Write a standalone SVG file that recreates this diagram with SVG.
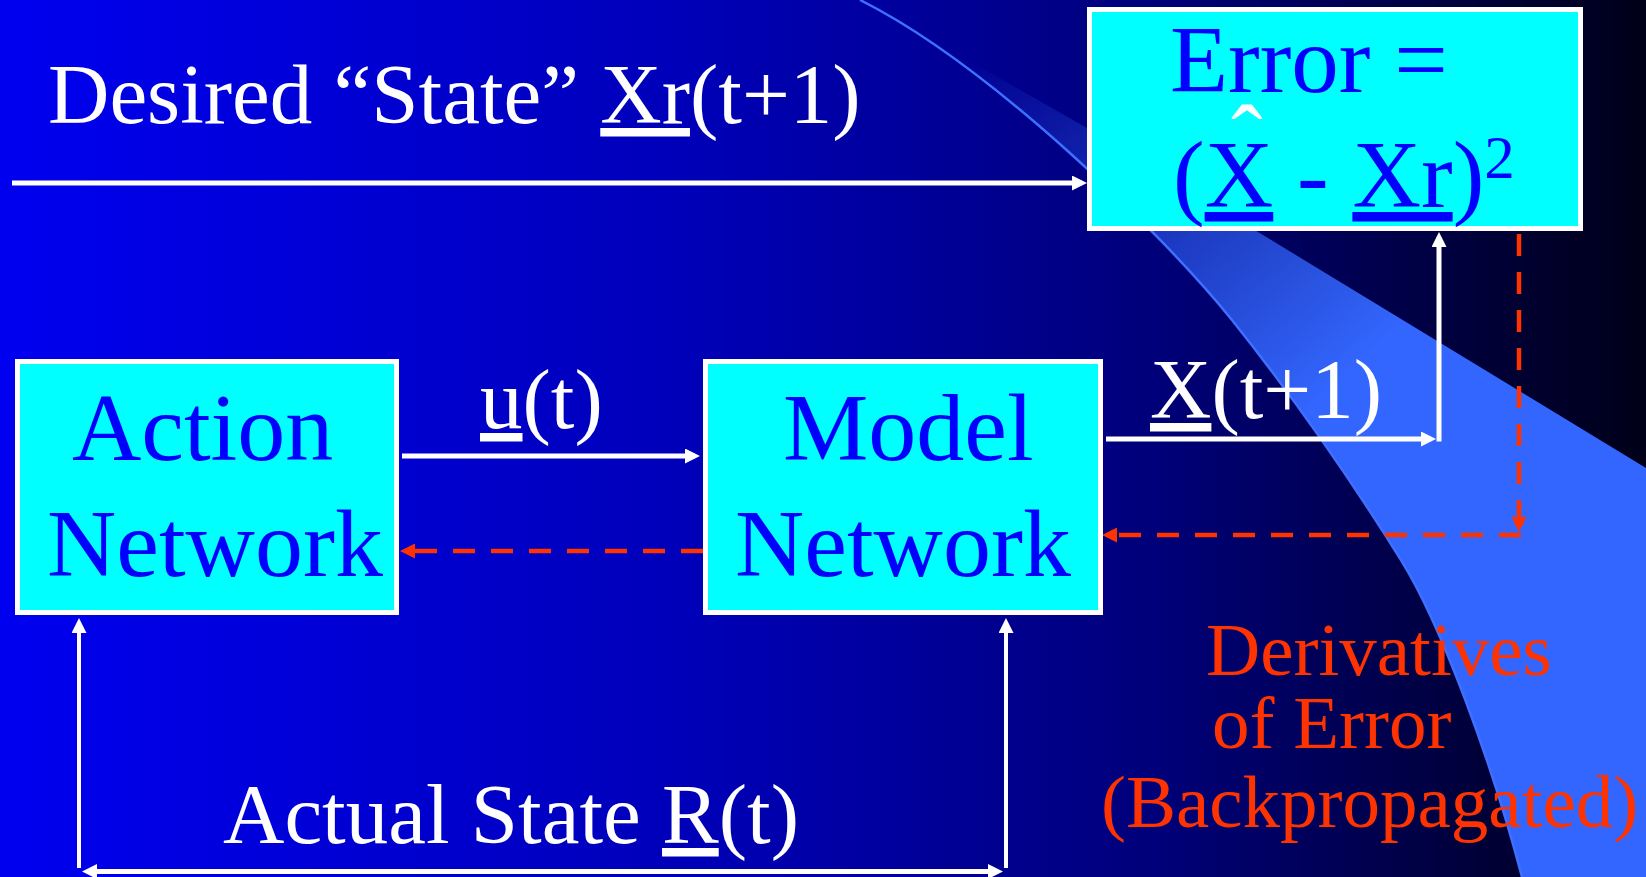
<svg xmlns="http://www.w3.org/2000/svg" width="1646" height="877" viewBox="0 0 1646 877">
  <defs>
    <linearGradient id="bgGrad" x1="0" y1="0" x2="1646" y2="0" gradientUnits="userSpaceOnUse">
      <stop offset="0" stop-color="#0000F0"/>
      <stop offset="0.42" stop-color="#0000B8"/>
      <stop offset="0.7" stop-color="#00007A"/>
      <stop offset="1" stop-color="#000018"/>
    </linearGradient>
    <linearGradient id="bandGrad" x1="960" y1="60" x2="1300" y2="420" gradientUnits="userSpaceOnUse">
      <stop offset="0" stop-color="#3366FF" stop-opacity="0"/>
      <stop offset="0.35" stop-color="#3366FF" stop-opacity="0.35"/>
      <stop offset="1" stop-color="#3366FF" stop-opacity="1"/>
    </linearGradient>
    <marker id="aw" viewBox="0 0 15 15" markerWidth="15" markerHeight="15" markerUnits="userSpaceOnUse" refX="10" refY="7.5" orient="auto-start-reverse">
      <path d="M0,0 L15,7.5 L0,15 Z" fill="#FFFFFF"/>
    </marker>
    <marker id="ar" viewBox="0 0 15 15" markerWidth="15" markerHeight="15" markerUnits="userSpaceOnUse" refX="10" refY="7.5" orient="auto">
      <path d="M0,0 L15,7.5 L0,15 Z" fill="#FF3300"/>
    </marker>
  </defs>
  <style>
    .box { fill: #00FFFF; stroke: #FFFFFF; stroke-width: 5; }
    .t { font-family: "Liberation Serif", "Times New Roman", serif; }
    .blue { fill: #0000FF; font-size: 96px; }
    .white { fill: #FFFFFF; font-size: 85px; }
    .red { fill: #FF3300; font-size: 75px; }
    .u { text-decoration: underline; }
    .wl { fill: none; stroke: #FFFFFF; stroke-width: 5; }
    .wt { fill: none; stroke: #FFFFFF; stroke-width: 4; }
    .rl { fill: none; stroke: #FF3300; stroke-width: 4.5; stroke-dasharray: 22 16; }
  </style>

  <g id="background">
    <rect x="0" y="0" width="1646" height="877" fill="url(#bgGrad)"/>
    <path d="M862,0 L1087,128 L1646,468 L1646,877 L1522,877 C1492,763 1441,624 1401,560 C1346,472 1287,389 1232,320 C1162,233 990,65 860,0 Z" fill="url(#bandGrad)"/>
    <path d="M860,0 C990,65 1162,233 1232,320 C1287,389 1346,472 1401,560 C1441,624 1492,763 1522,877" fill="none" stroke="#3F6FFF" stroke-width="2.5"/>
  </g>

  <g id="connectors">
    <path class="wl" d="M12,183 H1082" marker-end="url(#aw)"/>
    <path class="wl" d="M402,456 H695" marker-end="url(#aw)"/>
    <path class="wl" d="M1106,439 H1431" marker-end="url(#aw)"/>
    <path class="wl" d="M1439,441.5 V237" marker-end="url(#aw)"/>
    <path class="rl" d="M1519,234 V527" marker-end="url(#ar)"/>
    <path class="rl" d="M1521,535 H1107" marker-end="url(#ar)"/>
    <path class="rl" d="M703,551 H405" marker-end="url(#ar)"/>
    <path class="wt" d="M79,868 V623" marker-end="url(#aw)"/>
    <path class="wt" d="M1006,868 V623" marker-end="url(#aw)"/>
    <path class="wl" d="M87,871.5 H998" marker-start="url(#aw)" marker-end="url(#aw)"/>
  </g>

  <g id="node-error">
    <rect class="box" x="1089.5" y="9.5" width="491" height="219"/>
    <text class="t blue" x="1170" y="92" style="font-size:95px">Error =</text>
    <text class="t" x="1231" y="171" fill="#FFFFFF" style="font-size:95px">ˆ</text>
    <text class="t blue" x="1173" y="207" style="font-size:95px">(<tspan class="u">X</tspan> - <tspan class="u">Xr</tspan>)<tspan style="font-size:61px" dy="-29">2</tspan></text>
  </g>

  <g id="node-action">
    <rect class="box" x="17.5" y="361.5" width="379" height="251"/>
    <text class="t blue" x="72" y="460">Action</text>
    <text class="t blue" x="47" y="576">Network</text>
  </g>

  <g id="node-model">
    <rect class="box" x="705.5" y="361.5" width="395" height="251"/>
    <text class="t blue" x="783" y="460">Model</text>
    <text class="t blue" x="735" y="576">Network</text>
  </g>

  <g id="labels">
    <text class="t white" x="48" y="123">Desired “State” <tspan class="u">Xr</tspan>(t+1)</text>
    <text class="t white" x="480" y="428"><tspan class="u">u</tspan>(t)</text>
    <text class="t white" x="1150" y="418"><tspan class="u">X</tspan>(t+1)</text>
    <text class="t white" x="223" y="843">Actual State <tspan class="u">R</tspan>(t)</text>
    <text class="t red" x="1206" y="675">Derivatives</text>
    <text class="t red" x="1212" y="748">of Error</text>
    <text class="t red" x="1101" y="827">(Backpropagated)</text>
  </g>
</svg>
